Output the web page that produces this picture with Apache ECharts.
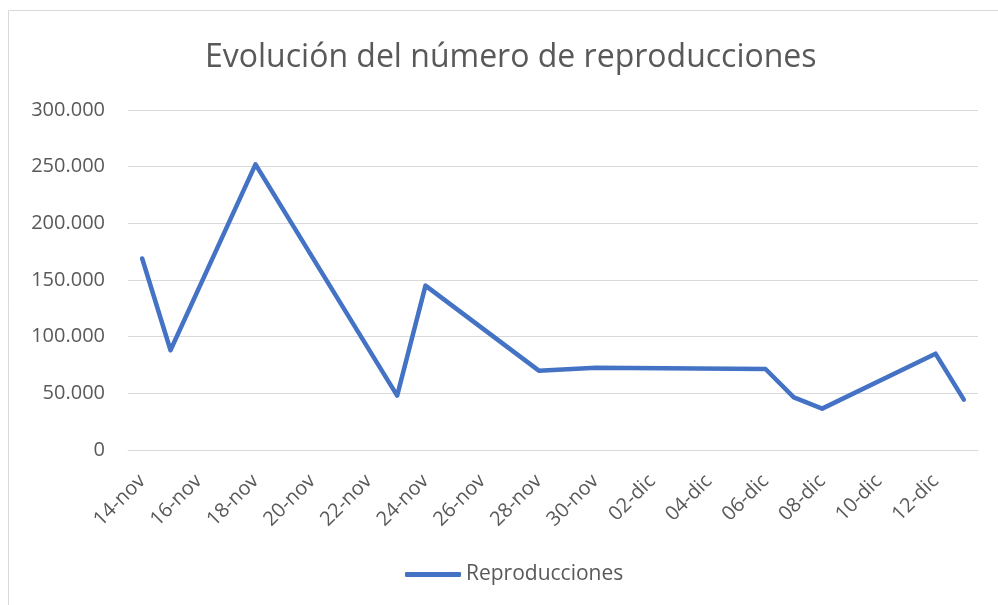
<!DOCTYPE html>
<html>
<head>
<meta charset="utf-8">
<script src="https://cdn.jsdelivr.net/npm/echarts@6/dist/echarts.min.js"></script>
<style>
  html, body { margin: 0; padding: 0; background: #fff; }
  #chart { width: 998px; height: 605px; }
</style>
</head>
<body>
<div id="chart"></div>
<script>
// días del eje (uno por categoría)
const dias = [
  '14-nov', '15-nov', '16-nov', '17-nov', '18-nov', '19-nov', '20-nov', '21-nov',
  '22-nov', '23-nov', '24-nov', '25-nov', '26-nov', '27-nov', '28-nov', '29-nov',
  '30-nov', '01-dic', '02-dic', '03-dic', '04-dic', '05-dic', '06-dic', '07-dic',
  '08-dic', '09-dic', '10-dic', '11-dic', '12-dic', '13-dic'
];
// reproducciones (null = sin dato, la línea los une)
const reproducciones = [
  169000, 88000, null, null, 252000, null, null, null,
  null, 48000, 145000, null, null, null, 70000, null,
  72500, null, null, null, null, null, 71500, 46500,
  36500, null, null, null, 85000, 44500
];

const chart = echarts.init(document.getElementById('chart'));
const gris = '#595959';

chart.setOption({
  animation: false,
  textStyle: { fontFamily: 'Open Sans' },
  title: {
    text: 'Evolución del número de reproducciones',
    left: 200,
    top: 37,
    textStyle: { fontSize: 32, fontWeight: 'normal', color: gris }
  },
  graphic: [{
    type: 'rect',
    shape: { x: 8.5, y: 10.5, width: 1000, height: 600 },
    style: { fill: 'none', stroke: '#d9d9d9', lineWidth: 1 }
  }],
  legend: {
    bottom: 15,
    left: 400,
    icon: 'roundRect',
    itemWidth: 56,
    itemHeight: 5,
    itemGap: 10,
    textStyle: { fontSize: 21, color: gris }
  },
  grid: { left: 128, right: 20, top: 110, bottom: 155 },
  xAxis: {
    type: 'category',
    data: dias,
    boundaryGap: true,
    axisLine: { lineStyle: { color: '#d9d9d9' } },
    axisTick: { show: false },
    axisLabel: { interval: 1, rotate: 45, fontSize: 20, color: gris, margin: 28 }
  },
  yAxis: {
    type: 'value',
    min: 0,
    max: 300000,
    interval: 50000,
    axisLine: { show: false },
    axisTick: { show: false },
    splitLine: { lineStyle: { color: '#d9d9d9' } },
    axisLabel: {
      fontSize: 20,
      color: gris,
      margin: 23,
      formatter: v => v.toString().replace(/\B(?=(\d{3})+(?!\d))/g, '.')
    }
  },
  series: [{
    name: 'Reproducciones',
    type: 'line',
    data: reproducciones,
    connectNulls: true,
    showSymbol: false,
    symbol: 'none',
    lineStyle: { color: '#4472C4', width: 4.5, cap: 'round', join: 'round' },
    itemStyle: { color: '#4472C4' }
  }]
});
</script>
</body>
</html>
